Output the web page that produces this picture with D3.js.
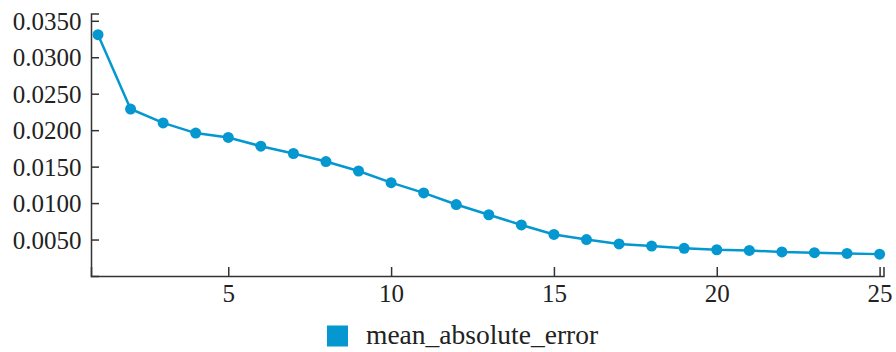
<!DOCTYPE html>
<html><head><meta charset="utf-8">
<script src="https://cdn.jsdelivr.net/npm/d3@7"></script>
</head><body style="margin:0">
<svg id="c" width="896" height="352" font-family="Liberation Serif" style="display:block;font-family:'Liberation Serif',serif"></svg>
<script>
const epochs = [1,2,3,4,5,6,7,8,9,10,11,12,13,14,15,16,17,18,19,20,21,22,23,24,25];
const maeValues = [0.0331,0.0229,0.0210,0.0196,0.0190,0.0178,0.0168,0.0157,0.0144,0.0128,0.0114,0.0098,0.0084,0.0070,0.0057,0.0050,0.0044,0.0041,0.0038,0.0036,0.0035,0.0033,0.0032,0.0031,0.0030];
const yTicks = [0.005,0.010,0.015,0.020,0.025,0.030,0.035];
const xTicks = [5,10,15,20,25];
const seriesName = "mean_absolute_error";
const color = "#0497d0";

const svg = d3.select("#c");
const x = d3.scaleLinear().domain([0.785, 25.12]).range([91, 883.5]);
const y = d3.scaleLinear().domain([0, 0.036]).range([276, 13.5]);

const yAxis = svg.append("g").attr("transform","translate(91,0)")
  .call(d3.axisLeft(y).tickValues(yTicks).tickFormat(d3.format(".4f")).tickSize(-8).tickSizeOuter(-8).tickPadding(10));
const xAxis = svg.append("g").attr("transform","translate(0,276)")
  .call(d3.axisBottom(x).tickValues(xTicks).tickFormat(d3.format("d")).tickSize(-9).tickSizeOuter(-9).tickPadding(10));
[yAxis,xAxis].forEach(g=>{
  g.attr("font-family","Liberation Serif").attr("font-size",25);
  g.selectAll("path,line").attr("stroke","#333").attr("stroke-width",1.5);
  g.selectAll("text").attr("fill","#222");
});
yAxis.selectAll("text").attr("x",-9.5).attr("dy","0.34em");
xAxis.selectAll("text").attr("y",26).attr("dy","0");

const data = epochs.map((e,i)=>({e, v: maeValues[i]}));
svg.append("path").datum(data)
  .attr("fill","none").attr("stroke",color).attr("stroke-width",2.5)
  .attr("d", d3.line().x(d=>x(d.e)).y(d=>y(d.v)));
svg.append("g").selectAll("circle").data(data).join("circle")
  .attr("cx",d=>x(d.e)).attr("cy",d=>y(d.v)).attr("r",5.5).attr("fill",color);

svg.append("rect").attr("x",327).attr("y",325.5).attr("width",21).attr("height",21).attr("fill",color);
svg.append("text").attr("x",366).attr("y",344).text(seriesName)
  .attr("fill","#222").attr("font-family","Liberation Serif").attr("font-size",27.5);
</script>
</body></html>
